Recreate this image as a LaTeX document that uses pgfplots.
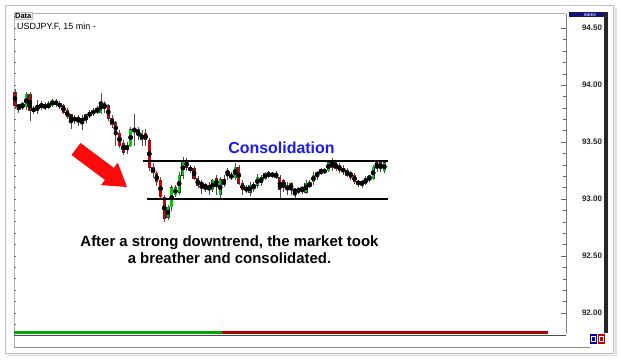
\documentclass[border=0pt]{standalone}
\usepackage{fontspec}
\setmainfont{Liberation Sans}
\usepackage{pgfplots}
\usepackage{pgfplotstable}
\pgfplotsset{compat=1.18}
\definecolor{candlegreen}{RGB}{0,205,0}
\definecolor{candlered}{RGB}{200,0,0}
\definecolor{consblue}{RGB}{25,25,240}
\definecolor{arrowred}{RGB}{250,10,10}
\definecolor{navyhdr}{RGB}{20,20,120}
\pgfplotstableread{
i o h l c
0 93.94 93.97 93.80 93.82
1 93.82 93.84 93.76 93.81
4 93.92 93.94 93.69 93.78
5 93.80 93.82 93.75 93.77
7 93.84 93.86 93.78 93.80
9 93.83 93.86 93.79 93.81
11 93.86 93.88 93.81 93.83
12 93.84 93.86 93.79 93.81
13 93.82 93.84 93.75 93.76
14 93.78 93.80 93.70 93.72
15 93.74 93.75 93.62 93.69
16 93.72 93.74 93.66 93.69
17 93.72 93.74 93.64 93.68
24 93.84 93.86 93.76 93.80
25 93.82 93.84 93.69 93.71
26 93.71 93.74 93.62 93.65
27 93.67 93.69 93.47 93.58
28 93.58 93.61 93.45 93.47
29 93.49 93.52 93.39 93.41
33 93.61 93.63 93.52 93.56
35 93.58 93.62 93.47 93.52
36 93.52 93.54 93.25 93.28
37 93.28 93.32 93.19 93.23
38 93.23 93.25 93.12 93.15
39 93.17 93.19 92.99 93.02
40 93.02 93.04 92.80 92.83
46 93.34 93.36 93.25 93.28
47 93.28 93.30 93.23 93.25
48 93.27 93.29 93.17 93.18
49 93.18 93.20 93.10 93.12
50 93.15 93.17 93.05 93.12
51 93.12 93.14 93.06 93.11
52 93.12 93.15 93.04 93.08
54 93.18 93.21 93.04 93.12
56 93.17 93.21 93.11 93.13
57 93.24 93.27 93.17 93.23
58 93.21 93.24 93.17 93.19
60 93.28 93.30 93.12 93.14
61 93.14 93.17 93.04 93.08
62 93.10 93.12 93.05 93.08
64 93.12 93.15 93.06 93.11
69 93.22 93.24 93.19 93.21
70 93.21 93.25 93.18 93.20
71 93.19 93.21 93.01 93.08
72 93.17 93.18 93.06 93.10
74 93.14 93.15 93.04 93.08
75 93.08 93.10 93.00 93.07
83 93.25 93.27 93.22 93.24
85 93.34 93.36 93.25 93.28
86 93.32 93.34 93.25 93.27
87 93.30 93.32 93.23 93.25
88 93.27 93.30 93.21 93.24
89 93.25 93.27 93.19 93.21
90 93.24 93.25 93.17 93.19
91 93.21 93.23 93.13 93.15
92 93.15 93.17 93.11 93.14
93 93.15 93.17 93.10 93.13
98 93.32 93.33 93.24 93.27
}\redtab
\pgfplotstableread{
i o h l c
2 93.82 93.85 93.78 93.83
3 93.81 93.94 93.78 93.92
6 93.78 93.87 93.75 93.82
8 93.80 93.85 93.78 93.83
10 93.82 93.88 93.81 93.87
18 93.68 93.74 93.61 93.71
19 93.69 93.75 93.67 93.74
20 93.73 93.78 93.71 93.76
21 93.75 93.80 93.73 93.78
22 93.76 93.82 93.75 93.80
23 93.76 93.93 93.75 93.85
30 93.43 93.50 93.40 93.47
31 93.47 93.63 93.46 93.61
32 93.60 93.75 93.47 93.61
34 93.52 93.61 93.47 93.58
41 92.84 92.95 92.82 92.93
42 92.93 93.12 92.90 93.10
43 93.04 93.12 93.02 93.10
44 93.06 93.24 93.04 93.21
45 93.21 93.37 93.18 93.34
53 93.08 93.18 93.06 93.17
55 93.04 93.19 93.01 93.17
59 93.19 93.32 93.17 93.28
63 93.06 93.15 93.03 93.12
65 93.12 93.22 93.10 93.19
66 93.15 93.21 93.12 93.19
67 93.18 93.24 93.17 93.23
68 93.21 93.25 93.19 93.22
73 93.08 93.15 93.04 93.12
76 93.06 93.11 93.05 93.10
77 93.08 93.11 93.05 93.10
78 93.06 93.17 93.05 93.14
79 93.11 93.17 93.10 93.14
80 93.15 93.24 93.12 93.21
81 93.20 93.25 93.17 93.24
82 93.24 93.27 93.21 93.25
84 93.25 93.34 93.24 93.32
94 93.14 93.20 93.12 93.18
95 93.18 93.21 93.15 93.20
96 93.18 93.30 93.17 93.28
97 93.28 93.33 93.24 93.32
99 93.25 93.34 93.23 93.32
}\greentab
\pgfplotsset{
  wick/.style={only marks, mark=none, forget plot,
    error bars/.cd, y dir=both, y explicit, error mark=none,
    error bar style={draw=black!70, line width=0.6bp}},
  body/.style={only marks, mark=none, forget plot,
    error bars/.cd, y dir=both, y explicit, error mark=none,
    error bar style={draw=#1, line width=2.4bp}},
  bodyout/.style={only marks, mark=none, forget plot,
    error bars/.cd, y dir=both, y explicit, error mark=none,
    error bar style={draw=black!80, line width=3.2bp}},
}
\begin{document}
\begin{tikzpicture}[x=1bp,y=1bp]
\useasboundingbox (0,0) rectangle (621,361);
% outer frame with shadow
\fill[black!12] (8,5) rectangle (617,353);
\fill[black!6] (7,6) rectangle (615,354);
\draw[black!25, fill=white] (5,8) rectangle (613,356);
% inner panel
\draw[black!30, line width=0.5bp] (14,14) -- (14,348) -- (566,348);
\draw[black!45, line width=0.6bp] (14,14) -- (590,14);
% right thick bar
\fill[black!85] (603.5,28) rectangle (607.5,348.5);
% INDEX header
\fill[navyhdr] (569,344) rectangle (603.5,348.5);
\node[font=\bfseries\fontsize{4}{4}\selectfont, text=white!80!blue, inner sep=0] at (590,346.2) {INDEX};
% buttons
\fill[blue!65!black] (589.5,17) rectangle (597,27);
\draw[white, line width=0.5bp] (591,19.5) rectangle (595.5,24.5);
\fill[red!75!black] (597.5,17) rectangle (605,27);
\draw[white, line width=0.5bp] (599,19.5) rectangle (603.5,24.5);
% bottom indicator lines
\draw[line width=2.2bp, green!65!black] (14,28.5) -- (222,28.5);
\draw[line width=2.2bp, red!70!black] (222,28.5) -- (548,28.5);
\draw[black!70, line width=0.6bp] (14,26.2) -- (566,26.2);
% header text
\node[anchor=north west, inner sep=1bp, font=\bfseries\fontsize{7.5}{8}\selectfont, fill=black!6, draw=black!25] at (14,349) {Data};
\node[anchor=north west, inner sep=0bp, font=\fontsize{9}{10}\selectfont] at (14.5,338) {.USDJPY.F, 15 min -};
% left dots axis
\begin{axis}[at={(14bp,28bp)}, anchor=south west, width=552bp, height=319bp, scale only axis,
  xmin=-0.27, xmax=147.7, ymin=91.825, ymax=94.625,
  axis x line=none, axis y line*=left, y axis line style={draw=none},
  ytick={91.9,92.0,92.1,92.2,92.3,92.4,92.5,92.6,92.7,92.8,92.9,93.0,93.1,93.2,93.3,93.4,93.5,93.6,93.7,93.8,93.9,94.0,94.1,94.2,94.3,94.4,94.5,94.6},
  yticklabels={}, tick align=inside, major tick length=1.5bp,
  ytick style={black!55, line width=0.9bp}]
\end{axis}
\begin{axis}[at={(14bp,28bp)}, anchor=south west, width=552bp, height=319bp, scale only axis,
  xmin=-0.27, xmax=147.7, ymin=91.825, ymax=94.625,
  axis x line=none, axis y line*=right,
  y axis line style={draw=black!50, line width=0.6bp},
  ytick={92,92.5,93,93.5,94,94.5}, minor y tick num=4,
  tick align=inside, major tick length=5bp, minor tick length=3bp,
  ytick style={black!60, line width=0.6bp},
  /pgf/number format/.cd, fixed, fixed zerofill, precision=2, assume math mode=true,
  /pgfplots/.cd,
  yticklabel style={font=\bfseries\fontsize{8}{9}\selectfont, text=black!85, xshift=12.5bp},
  clip=false]
% wicks
\addplot[wick] table[x=i, y expr={(\thisrow{h}+\thisrow{l})/2}, y error expr={(\thisrow{h}-\thisrow{l})/2}] {\redtab};
\addplot[wick] table[x=i, y expr={(\thisrow{h}+\thisrow{l})/2}, y error expr={(\thisrow{h}-\thisrow{l})/2}] {\greentab};
% bodies
\addplot[bodyout] table[x=i, y expr={(\thisrow{o}+\thisrow{c})/2}, y error expr={abs(\thisrow{o}-\thisrow{c})/2+0.003}] {\redtab};
\addplot[bodyout] table[x=i, y expr={(\thisrow{o}+\thisrow{c})/2}, y error expr={abs(\thisrow{o}-\thisrow{c})/2+0.003}] {\greentab};
\addplot[body=candlered] table[x=i, y expr={(\thisrow{o}+\thisrow{c})/2}, y error expr={abs(\thisrow{o}-\thisrow{c})/2}] {\redtab};
\addplot[body=candlegreen] table[x=i, y expr={(\thisrow{o}+\thisrow{c})/2}, y error expr={abs(\thisrow{o}-\thisrow{c})/2}] {\greentab};
% consolidation lines
\addplot[black, line width=1.4bp] coordinates {(34.2,93.335) (100,93.335)};
\addplot[black, line width=1.4bp] coordinates {(35.3,93.0) (100,93.0)};
\end{axis}
% arrow
\fill[arrowred] (80.5,218) -- (113.9,193.1) -- (117.8,198.3) -- (127,174) -- (101,175.9) -- (104.9,181.1) -- (71.5,206) -- cycle;
% annotations
\node[font=\bfseries\fontsize{16}{18}\selectfont, text=consblue] at (281.5,213) {Consolidation};
\node[font=\bfseries\fontsize{15}{17}\selectfont, align=center] at (229.5,111) {After a strong downtrend, the market took\\a breather and consolidated.};
\end{tikzpicture}
\end{document}
